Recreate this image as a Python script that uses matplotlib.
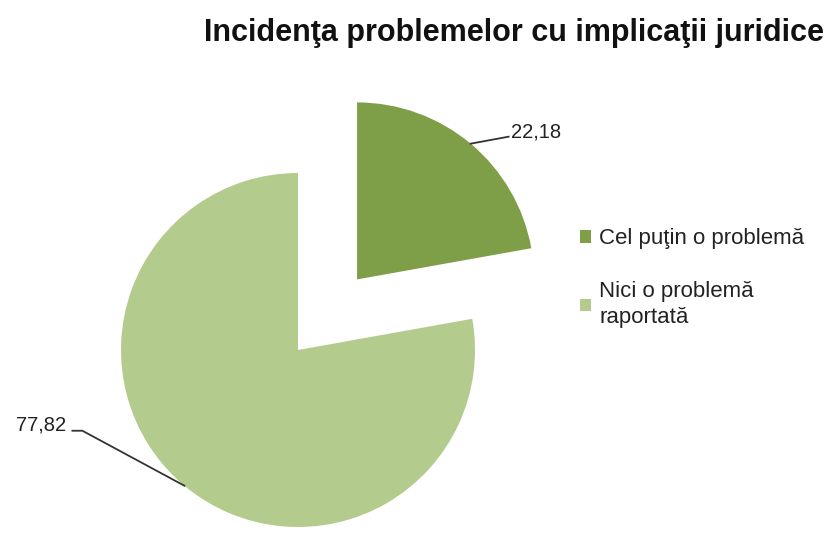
import numpy as np
import matplotlib.pyplot as plt

plt.rcParams['font.family'] = ['Liberation Sans', 'DejaVu Sans']

# data
labels = ['Cel puţin o problemă', 'Nici o problemă\nraportată']
values = [22.18, 77.82]
value_text = ['22,18', '77,82']
colors = ['#7F9E48', '#B4CB8E']

W, H = 831, 551
fig = plt.figure(figsize=(W / 100, H / 100), dpi=100)
ax = fig.add_axes([0, 0, 1, 1])

cx, cy, r = 298, H - 350, 177
explode = [0.52, 0]
# pie explode is given in data units, so scale by radius
wedges, _ = ax.pie(values, colors=colors, startangle=90, counterclock=False,
                   center=(cx, cy), radius=r, explode=[e * r for e in explode],
                   wedgeprops=dict(linewidth=0))
ax.set_xlim(0, W)
ax.set_ylim(0, H)
ax.set_aspect('equal')
ax.axis('off')

# data labels with leader lines
offsets = [(40, 12), (-118, 61)]
for w, txt, ex, (ox, oy) in zip(wedges, value_text, explode, offsets):
    ang = np.deg2rad((w.theta1 + w.theta2) / 2)
    px = cx + r * (1 + ex) * np.cos(ang)
    py = cy + r * (1 + ex) * np.sin(ang)
    tx, ty = px + ox, py + oy
    if ox > 0:
        ax.plot([px, tx - 2], [py, ty - 5], color='#333333', lw=1.3)
        ha = 'left'
    else:
        ax.plot([px, tx + 16, tx + 6], [py, ty - 6, ty - 6], color='#333333', lw=1.3)
        ha = 'right'
    ax.text(tx, ty, txt, ha=ha, va='center', fontsize=14.5, color='#222222')

fig.text(514 / W, 1 - 33 / H, 'Incidenţa problemelor cu implicaţii juridice',
         ha='center', va='center', fontsize=22, fontweight='bold', color='#111111')

leg = fig.legend(wedges, labels, loc='upper left', bbox_to_anchor=(0.685, 0.606),
                 frameon=False, fontsize=16, handlelength=0.5, handleheight=0.5,
                 handletextpad=0.35, labelspacing=1.45, borderpad=0)
for t in leg.get_texts():
    t.set_color('#222222')
    t.set_linespacing(1.3)

fig.savefig('out.png', dpi=100)
